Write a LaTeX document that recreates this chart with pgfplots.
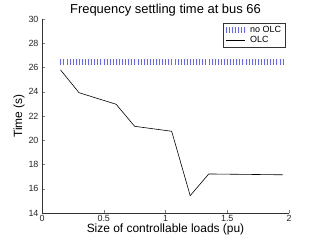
\documentclass[border=0pt]{standalone}
\usepackage{pgfplots}
\pgfplotsset{compat=1.18}
\usepackage{fontspec}
\setmainfont{Liberation Sans}
\begin{document}
\begin{tikzpicture}
\begin{axis}[
  scale only axis,
  width=247bp, height=194bp,
  xmin=0, xmax=2, ymin=14, ymax=30,
  axis lines=left,
  axis line style={-, black!80},
  tick align=inside,
  major tick length=3bp,
  xtick={0,0.5,1,1.5,2},
  ytick={14,16,...,30},
  xticklabels={0,0.5,1,1.5,2},
  tick label style={font=\fontsize{9}{10}\selectfont, black!85},
  xticklabel style={yshift=1bp},
  /pgf/number format/assume math mode=true,
  title={Frequency settling time at bus 66},
  title style={font=\fontsize{13}{15}\selectfont, yshift=-6.5bp},
  xlabel={Size of controllable loads (pu)},
  ylabel={Time (s)},
  label style={font=\fontsize{12}{14}\selectfont},
  xlabel style={yshift=5bp},
  ylabel style={yshift=-3bp},
  legend style={at={(0.985,0.98)}, anchor=north east, font=\fontsize{9}{10}\selectfont,
    draw=black!80, line width=0.5pt, inner xsep=2pt, inner ysep=1pt, row sep=-1.5pt,
    column sep=3bp},
  legend cell align=left,
]
\addplot[blue!60, only marks, mark=|, mark size=3bp, mark options={line width=0.4pt},
  legend image code/.code={
    \foreach \xx in {0,3,...,18}{\draw[blue!60, line width=0.4pt] (\xx bp,-3bp) -- (\xx bp,3bp);}
  }] coordinates {
(0.150,26.42)(0.175,26.42)(0.200,26.42)(0.225,26.42)(0.250,26.42)(0.275,26.42)(0.300,26.42)(0.325,26.42)
(0.350,26.42)(0.375,26.42)(0.400,26.42)(0.425,26.42)(0.450,26.42)(0.475,26.42)(0.500,26.42)(0.525,26.42)
(0.550,26.42)(0.575,26.42)(0.600,26.42)(0.625,26.42)(0.650,26.42)(0.675,26.42)(0.700,26.42)(0.725,26.42)
(0.750,26.42)(0.775,26.42)(0.800,26.42)(0.825,26.42)(0.850,26.42)(0.875,26.42)(0.900,26.42)(0.925,26.42)
(0.950,26.42)(0.975,26.42)(1.000,26.42)(1.025,26.42)(1.050,26.42)(1.075,26.42)(1.100,26.42)(1.125,26.42)
(1.150,26.42)(1.175,26.42)(1.200,26.42)(1.225,26.42)(1.250,26.42)(1.275,26.42)(1.300,26.42)(1.325,26.42)
(1.350,26.42)(1.375,26.42)(1.400,26.42)(1.425,26.42)(1.450,26.42)(1.475,26.42)(1.500,26.42)(1.525,26.42)
(1.550,26.42)(1.575,26.42)(1.600,26.42)(1.625,26.42)(1.650,26.42)(1.675,26.42)(1.700,26.42)(1.725,26.42)
(1.750,26.42)(1.775,26.42)(1.800,26.42)(1.825,26.42)(1.850,26.42)(1.875,26.42)(1.900,26.42)(1.925,26.42)
(1.950,26.42)
};
\addlegendentry{no OLC}
\addplot[black, line width=0.6pt, mark=none,
  legend image code/.code={\draw[black, line width=0.6pt] (0bp,0bp) -- (19bp,0bp);}] coordinates {
(0.15,25.8)(0.30,23.92)(0.60,22.97)(0.75,21.15)(1.05,20.74)(1.20,15.43)(1.35,17.22)(1.95,17.15)
};
\addlegendentry{OLC}
\end{axis}
\pgfresetboundingbox
\useasboundingbox (-42bp,-27bp) rectangle (277bp,213bp);
\end{tikzpicture}
\end{document}
